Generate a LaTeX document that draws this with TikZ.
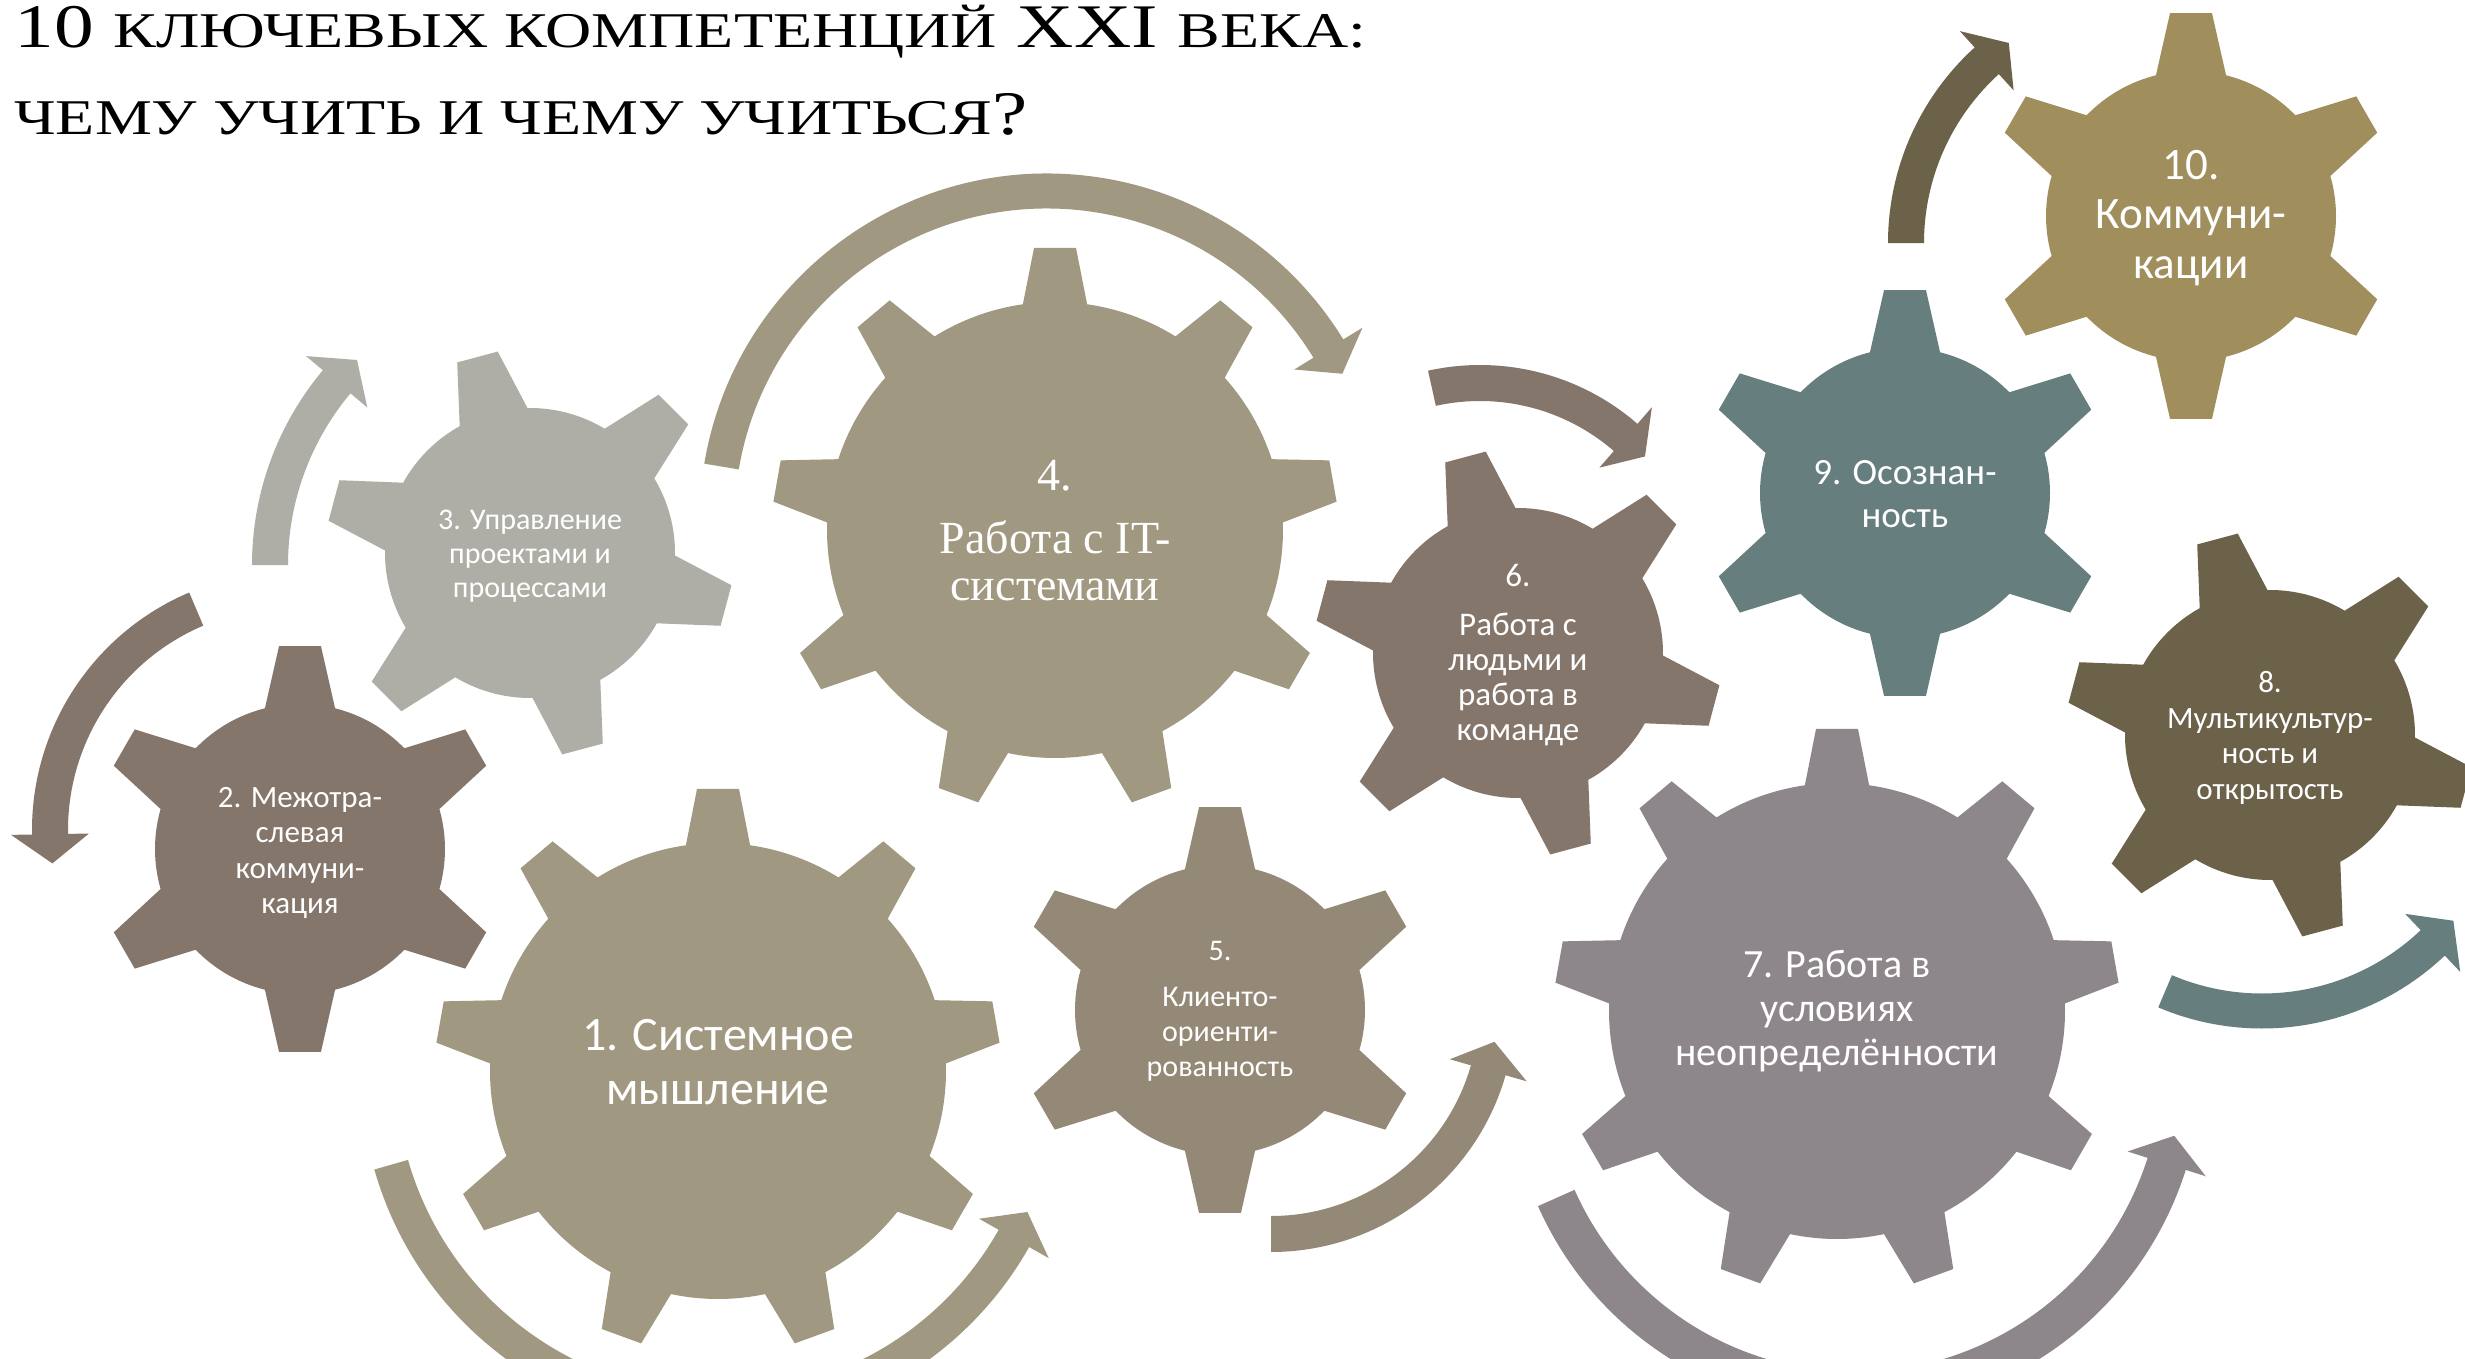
\documentclass[tikz,border=0pt]{standalone}
\usepackage{fontspec}
\setmainfont{Carlito}
\newfontfamily\serifcyr{Liberation Serif}
\newfontfamily\titlefont[FakeStretch=1.28]{Liberation Serif}
\usetikzlibrary{calc}

\definecolor{cA}{RGB}{160,152,128}
\definecolor{cB}{RGB}{133,118,108}
\definecolor{cC}{RGB}{174,174,166}
\definecolor{cD}{RGB}{148,137,118}
\definecolor{cE}{RGB}{141,134,138}
\definecolor{cF}{RGB}{108,98,74}
\definecolor{cG}{RGB}{102,126,125}
\definecolor{cH}{RGB}{160,142,93}

% gear: #1 colour, #2 centre, #3 teeth, #4 offset angle, #5 body r, #6 tip R, #7 base half-angle, #8 tip half-angle
\newcommand{\gearfill}[8]{%
  \fill[#1, shift={#2}] ({#4-#7}:#5)
    \foreach \i [evaluate=\i as \t using #4+(\i-1)*360/#3] in {1,...,#3} {
      -- ({\t-#8}:#6) -- ({\t+#8}:#6) -- ({\t+#7}:#5)
      arc[start angle={\t+#7}, end angle={\t+360/#3-#7}, radius=#5]
    } -- cycle;
}
% circular arrow: #1 colour, #2 centre, #3 centre radius, #4 band width, #5 start angle, #6 head base angle, #7 tip angle, #8 head half width
\newcommand{\circarrow}[8]{%
  \fill[#1, shift={#2}] ({#5}:{#3+#4/2}) arc[start angle=#5, end angle=#6, radius={#3+#4/2}]
    -- ({#6}:{#3+#8}) -- ({#7}:#3) -- ({#6}:{#3-#8}) -- ({#6}:{#3-#4/2})
    arc[start angle=#6, end angle=#5, radius={#3-#4/2}] -- cycle;
}
\newcommand{\smc}[1]{{\fontsize{25}{25}\selectfont #1}}

\begin{document}
\begin{tikzpicture}[x=0.5pt,y=-0.5pt,
  txt/.style={text=white, align=center, inner sep=0pt}]
\useasboundingbox (0,0) rectangle (2465,1359);
\fill[white] (0,0) rectangle (2465,1359);
\clip (0,0) rectangle (2465,1359);

% arrows
\circarrow{cA}{(718,1071)}{340}{35}{164}{29.5}{24.5}{40}
\circarrow{cB}{(290,830)}{240}{36}{247}{179}{172}{39}
\circarrow{cC}{(555,565)}{285}{36}{180}{220}{226}{40}
\circarrow{cA}{(1047,521)}{330}{35}{189.5}{328.5}{333.5}{40}
\circarrow{cD}{(1271,1008)}{226}{36}{90}{16}{8.6}{40}
\circarrow{cB}{(1480,605)}{222}{36}{257.5}{311}{318}{40}
\circarrow{cE}{(1855,1065)}{327}{40}{156}{17.6}{12.5}{41}
\circarrow{cG}{(2262,763)}{248}{35}{113}{46.5}{39.5}{40}
\circarrow{cF}{(2152,243)}{246}{36}{180}{227.8}{234.4}{40}

% gears
\gearfill{cA}{(718,1071)}{9}{270}{228}{283}{8.1}{4.25}
\gearfill{cB}{(300,849)}{6}{90}{145}{204}{14}{5.9}
\gearfill{cC}{(530,553)}{6}{15}{145}{204}{14}{5.9}
\gearfill{cA}{(1055,530)}{9}{270}{228}{283}{8.1}{4.25}
\gearfill{cD}{(1220,1010)}{6}{90}{145}{204}{14}{5.9}
\gearfill{cB}{(1518,653)}{6}{15}{145}{204}{14}{5.9}
\gearfill{cE}{(1837,1011)}{9}{270}{228}{283}{8.1}{4.25}
\gearfill{cF}{(2270,735)}{6}{15}{145}{204}{14}{5.9}
\gearfill{cG}{(1905,493)}{6}{90}{145}{204}{14}{5.9}
\gearfill{cH}{(2191,216)}{6}{90}{145}{204}{14}{5.9}

% texts
\node[txt, font=\fontsize{24}{27}\selectfont] (t1) at (718,1062) {1. Системное\\мышление};
\node[txt, font=\fontsize{15.5}{17.8}\selectfont] (t2) at (300,853) {2. Межотра-\\слевая\\коммуни-\\кация};
\node[txt, font=\fontsize{15}{17}\selectfont] (t3) at (530,556) {3. Управление\\проектами и\\процессами};
\node[txt, font=\serifcyr\fontsize{23}{23.5}\selectfont] (t4) at (1055,531) {4.\\[8pt]Работа с IT-\\системами};
\node[txt, font=\fontsize{15}{17.3}\selectfont] (t5) at (1220,1011) {5.\\[6pt]Клиенто-\\ориенти-\\рованность};
\node[txt, font=\fontsize{16.5}{17.5}\selectfont] (t6) at (1518,655) {6.\\[7pt]Работа с\\людьми и\\работа в\\команде};
\node[txt, font=\fontsize{20}{22}\selectfont] (t7) at (1837,1011) {7. Работа в\\условиях\\неопределённости};
\node[txt, font=\fontsize{15.5}{17.8}\selectfont] (t8) at (2270,738) {8.\\Мультикультур-\\ность и\\открытость};
\node[txt, font=\fontsize{18.5}{21.2}\selectfont] (t9) at (1905,494) {9. Осознан-\\ность};
\node[txt, font=\fontsize{22.5}{24.75}\selectfont] (t10) at (2191,218) {10.\\Коммуни-\\кации};

% title
\node[anchor=base west, inner sep=0pt, font=\titlefont\fontsize{31}{31}\selectfont] (title1) at (14,48)
  {10 \smc{КЛЮЧЕВЫХ КОМПЕТЕНЦИЙ} XXI \smc{ВЕКА:}};
\node[anchor=base west, inner sep=0pt, font=\titlefont\fontsize{31}{31}\selectfont] (title2) at (14,134)
  {\smc{ЧЕМУ УЧИТЬ И ЧЕМУ УЧИТЬСЯ}?};
\end{tikzpicture}
\end{document}
